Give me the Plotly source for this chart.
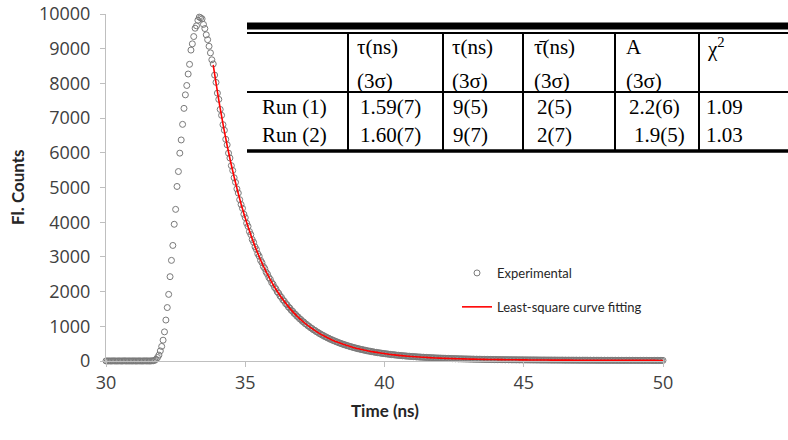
import plotly.graph_objects as go

# ---------------- data ----------------
T0 = 30.0          # first channel time (ns)
DT = 0.05          # channel width (ns)
counts = [
    # 30.00 - 31.70 baseline
    2, 0, 3, 1, 0, 4, 2, 1, 0, 3, 2, 0, 1, 5, 2, 0, 3, 1, 2, 0,
    4, 1, 0, 2, 3, 1, 0, 2, 4, 1, 3, 0, 2, 5, 8,
    # 31.75 - 33.80 rise and peak
    20, 50, 100, 170, 290, 420, 600, 840, 1180, 1540, 1920, 2430, 2900, 3330,
    3940, 4370, 5030, 5460, 5990, 6370, 6820, 7280, 7670, 7940, 8270, 8550,
    8960, 9140, 9350, 9590, 9660, 9820, 9910, 9890, 9860, 9700, 9580, 9400,
    9260, 9070, 8880, 8680,
    # 33.85 - 50.00 decay
    8560, 8240, 8030, 7720, 7540, 7250, 7080, 6810, 6650, 6390,
    6230, 5990, 5850, 5630, 5490, 5280, 5150, 4960, 4840, 4650,
    4510, 4400, 4230, 4130, 3970, 3880, 3730, 3645, 3500, 3420,
    3290, 3215, 3090, 3020, 2900, 2835, 2725, 2665, 2560, 2500,
    2405, 2352, 2258, 2210, 2122, 2078, 1993, 1952, 1874, 1834,
    1762, 1725, 1655, 1621, 1556, 1525, 1463, 1434, 1376, 1348,
    1294, 1269, 1217, 1194, 1145, 1123, 1077, 1057, 1014, 995,
    954, 937, 898, 883, 846, 831, 796, 783, 750, 738,
    706, 695, 665, 656, 627, 618, 591, 584, 558, 550,
    526, 519, 496, 490, 468, 463, 442, 437, 417, 413,
    394, 390, 372, 369, 351, 349, 332, 331, 314, 313,
    297, 295, 281, 280, 266, 265, 252, 251, 239, 239,
    226, 226, 215, 215, 204, 204, 193, 194, 183, 185,
    175, 175, 166, 166, 158, 158, 150, 151, 143, 144,
    136, 137, 130, 131, 124, 125, 118, 119, 113, 114,
    108, 109, 103, 105, 98, 100, 94, 96, 90, 92,
    86, 88, 83, 85, 79, 82, 76, 78, 73, 75,
    70, 73, 67, 70, 65, 68, 62, 65, 60, 63,
    58, 61, 56, 59, 54, 57, 52, 55, 50, 53,
    49, 52, 47, 50, 45, 49, 44, 47, 43, 46,
    41, 45, 40, 43, 39, 42, 38, 41, 37, 40,
    36, 39, 35, 38, 34, 37, 33, 37, 32, 36,
    31, 35, 31, 34, 30, 34, 29, 33, 29, 32,
    28, 32, 27, 31, 27, 30, 26, 30, 26, 29,
    25, 29, 25, 28, 24, 28, 24, 27, 23, 27,
    23, 27, 22, 26, 22, 26, 22, 25, 21, 25,
    21, 25, 20, 24, 20, 24, 20, 24, 19, 23,
    19, 23, 19, 23, 19, 22, 18, 22, 18, 22,
    18, 22, 18, 21, 17, 21, 17, 21, 17, 21,
    17, 21, 16, 20, 16, 20, 16, 20, 16, 20,
    16, 20, 16, 19, 15, 19, 15, 19, 15, 19,
    15, 19, 15, 19, 14, 18, 14, 18, 14, 18,
    14, 18, 15, 17,
]
times = [round(T0 + DT * i, 3) for i in range(len(counts))]

FIT_T0 = 33.85
FIT_DT = 0.25
fit_counts = [
    8535, 7280, 6211, 5301, 4526, 3866, 3303, 2823, 2415, 2067,
    1770, 1517, 1301, 1117, 960, 826, 711, 613, 530, 459,
    398, 345, 300, 262, 229, 201, 177, 156, 138, 123,
    110, 98, 88, 80, 72, 66, 60, 55, 50.5, 46.7,
    43.4, 40.4, 37.8, 35.5, 33.4, 31.5, 29.9, 28.4, 27.1, 25.9,
    24.8, 23.8, 23.0, 22.2, 21.4, 20.7, 20.1, 19.5, 18.9, 18.4,
    17.9, 17.5, 17.1, 16.7, 16.4, 16.2,
]
fit_times = [round(FIT_T0 + FIT_DT * i, 3) for i in range(len(fit_counts) - 1)] + [50.0]

x_ticks = [30, 35, 40, 45, 50]
y_ticks = [0, 1000, 2000, 3000, 4000, 5000, 6000, 7000, 8000, 9000, 10000]
y_ticktext = [str(v) for v in y_ticks]

series_names = ["Experimental", "Least-square curve fitting"]
x_title = "Time (ns)"
y_title = "Fl. Counts"

# table contents
header_top = ["τ(ns)", "τ(ns)", "τ\u0304(ns)", "A", "χ<sup>2</sup>"]
header_bottom = ["(3σ)", "(3σ)", "(3σ)", "(3σ)", ""]
row_labels = ["Run (1)", "Run (2)"]
run1 = ["1.59(7)", "9(5)", "2(5)", "2.2(6)", "1.09"]
run2 = ["1.60(7)", "9(7)", "2(7)", "1.9(5)", "1.03"]

# ---------------- layout geometry (pixels) ----------------
W, H = 788, 440
L, R, TOP, BOT = 106, 663, 14, 361


def px(x):
    return (x - L) / (R - L)


def py(y):
    return (BOT - y) / (BOT - TOP)


SANS = "'Open Sans', Lato, sans-serif"
TITLE_SANS = "Lato, 'Open Sans', sans-serif"
SERIF = "'Liberation Serif', 'Times New Roman', serif"
AXIS_GREY = "#bfbfbf"

fig = go.Figure()
fig.add_trace(go.Scatter(
    x=times, y=counts, mode="markers", name=series_names[0],
    legendgroup="a",
    marker=dict(symbol="circle-open", size=6, color="#7a7a7a", line=dict(width=1)),
    cliponaxis=False,
))
fig.add_trace(go.Scatter(
    x=fit_times, y=fit_counts, mode="lines", name=series_names[1],
    legendgroup="b",
    line=dict(color="#ff0000", width=1.6, shape="spline"),
    cliponaxis=False,
))

axis_common = dict(
    showline=True, linecolor=AXIS_GREY, linewidth=1,
    ticks="outside", ticklen=5, tickcolor=AXIS_GREY, tickwidth=1,
    showgrid=False, zeroline=False, automargin=False,
    tickfont=dict(family=SANS, size=18, color="#404040"),
)

fig.update_layout(
    width=W, height=H,
    margin=dict(l=L, r=W - R, t=TOP, b=H - BOT, pad=0, autoexpand=False),
    plot_bgcolor="white", paper_bgcolor="white",
    xaxis=dict(range=[30, 50], tickvals=x_ticks, ticklabelstandoff=0, **axis_common),
    yaxis=dict(range=[0, 10000], tickvals=y_ticks, ticktext=y_ticktext,
               ticklabelstandoff=6, **axis_common),
    showlegend=True,
    legend=dict(
        x=px(457), y=py(258), xanchor="left", yanchor="top",
        bgcolor="rgba(0,0,0,0)", borderwidth=0,
        font=dict(family=TITLE_SANS, size=13, color="#262626"),
        tracegroupgap=14, itemwidth=30,
    ),
)

annotations = []
# axis titles
annotations.append(dict(text="<b>" + x_title + "</b>", x=px(384.5), y=py(410), xref="paper", yref="paper",
                        showarrow=False, xanchor="center", yanchor="middle",
                        font=dict(family=TITLE_SANS, size=17, color="#262626")))
annotations.append(dict(text="<b>" + y_title + "</b>", x=px(17), y=py(187), xref="paper", yref="paper",
                        showarrow=False, xanchor="center", yanchor="middle", textangle=-90,
                        font=dict(family=TITLE_SANS, size=17, color="#262626")))

# table text
tfont = dict(family=SERIF, size=21, color="#000000")
head_x = [355, 450, 532, 624, 705]
val_x1 = [358, 451, 535, 627, 704]
val_x2 = [358, 451, 535, 632, 704]


def cell(text, x, y):
    annotations.append(dict(text=text, x=px(x), y=py(y), xref="paper", yref="paper",
                            showarrow=False, xanchor="left", yanchor="middle", font=tfont))


for t, x in zip(header_top, head_x):
    cell(t, x, 47)
for t, x in zip(header_bottom, head_x):
    if t:
        cell(t, x, 81)
cell(row_labels[0], 260, 106.5)
cell(row_labels[1], 260, 135)
for t, x in zip(run1, val_x1):
    cell(t, x, 106.5)
for t, x in zip(run2, val_x2):
    cell(t, x, 135)

shapes = []
TL, TR = 247, 800
shapes.append(dict(type="rect", xref="paper", yref="paper", x0=px(TL), x1=px(TR), y0=py(22.5), y1=py(29.5),
                   fillcolor="black", line=dict(width=0)))
shapes.append(dict(type="line", xref="paper", yref="paper", x0=px(TL), x1=px(TR), y0=py(33), y1=py(33),
                   line=dict(color="black", width=2)))
shapes.append(dict(type="line", xref="paper", yref="paper", x0=px(TL), x1=px(TR), y0=py(92), y1=py(92),
                   line=dict(color="black", width=2)))
shapes.append(dict(type="rect", xref="paper", yref="paper", x0=px(TL), x1=px(TR), y0=py(149.2), y1=py(152.7),
                   fillcolor="black", line=dict(width=0)))
for vx in [348, 443, 523, 615, 699]:
    shapes.append(dict(type="line", xref="paper", yref="paper", x0=px(vx), x1=px(vx), y0=py(33), y1=py(150),
                       line=dict(color="black", width=2)))

fig.update_layout(annotations=annotations, shapes=shapes)
fig.write_html("out.html")
